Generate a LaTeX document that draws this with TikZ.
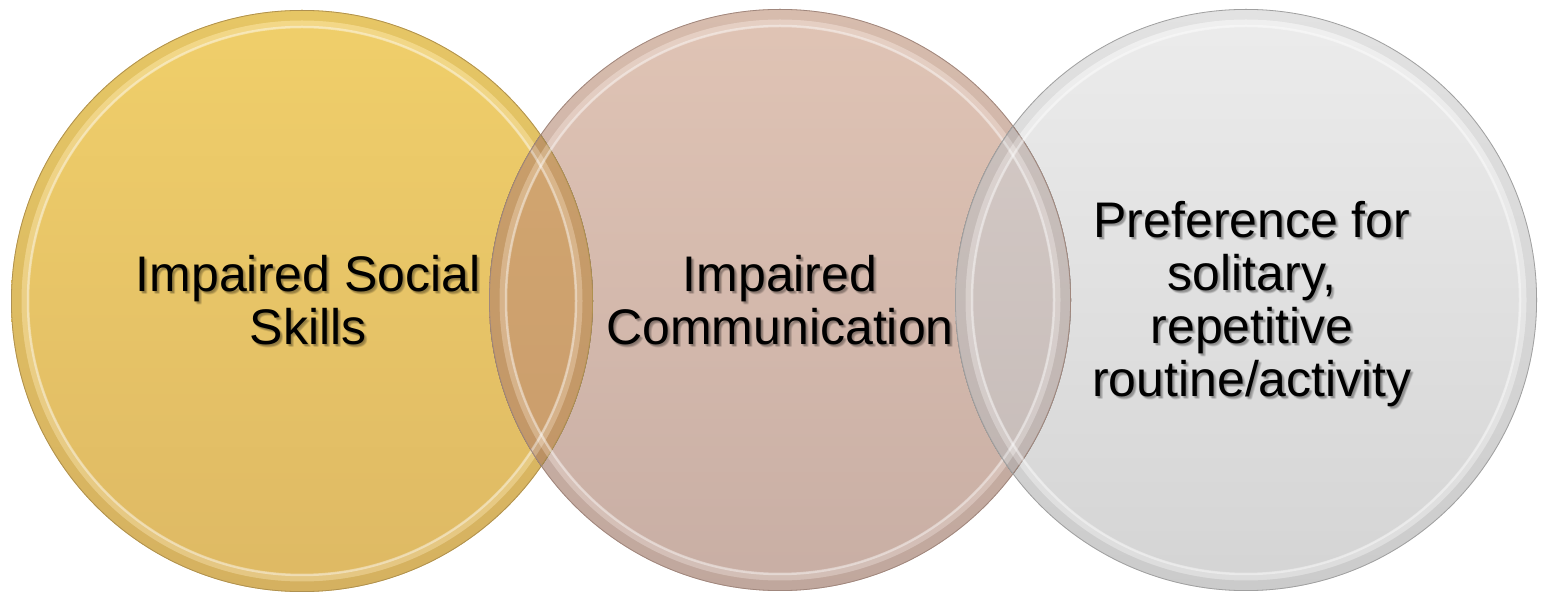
\documentclass[tikz,border=0pt]{standalone}
\usepackage{fontspec}
\setmainfont{Liberation Sans}
\definecolor{goldT}{RGB}{240,207,106}
\definecolor{goldB}{RGB}{222,185,100}
\definecolor{roseT}{RGB}{224,196,181}
\definecolor{roseB}{RGB}{200,174,164}
\definecolor{greyT}{RGB}{236,236,236}
\definecolor{greyB}{RGB}{212,212,212}
\definecolor{lensAT}{RGB}{212,168,112}
\definecolor{lensAB}{RGB}{200,155,108}
\definecolor{lensBT}{RGB}{214,203,199}
\definecolor{lensBB}{RGB}{196,186,183}
\begin{document}
\begin{tikzpicture}[x=1pt,y=1pt,
  disc/.style={circle, inner sep=0pt, minimum size=582pt},
  label/.style={align=center, font=\fontsize{50}{53}\selectfont, text=black, inner sep=0pt},
  shade/.style={label, text=black, text opacity=0.07}]
\useasboundingbox (0,0) rectangle (1543,600);

% the three discs, back to front
\node[disc, top color=goldT, bottom color=goldB] (soc) at (302,299) {};
\node[disc, top color=roseT, bottom color=roseB] (com) at (780,300) {};
\node[disc, top color=greyT, bottom color=greyB] (rep) at (1246,300) {};

% overlapping lenses
\begin{scope}
  \clip (soc.center) circle (291);
  \fill[top color=lensAT, bottom color=lensAB] (com.center) circle (291);
\end{scope}
\begin{scope}
  \clip (com.center) circle (291);
  \fill[top color=lensBT, bottom color=lensBB] (rep.center) circle (291);
\end{scope}

% bevelled rims
\foreach \c/\edge in {soc/{rgb,255:red,175;green,145;blue,80},
                      com/{rgb,255:red,160;green,135;blue,125},
                      rep/{rgb,255:red,160;green,160;blue,160}} {
  \draw[black, opacity=0.04, line width=10pt] (\c.center) circle (285.5);
  \draw[white, opacity=0.2, line width=7pt] (\c.center) circle (277);
  \draw[white, opacity=0.4, line width=2.5pt] (\c.center) circle (274);
  \draw[color=\edge, line width=0.8pt] (\c.center) circle (290.6);
}

% labels with a soft drop shadow
\foreach \dx/\dy in {1/-1, 2/-2, 3/-3, 2/-3, 3/-2, 1.5/-2.5} {
  \node[shade] at (308+\dx,300+\dy) {Impaired Social\\Skills};
  \node[shade] at (780+\dx,300+\dy) {Impaired\\Communication};
  \node[shade] at (1252+\dx,296+\dy) {Preference for\\solitary,\\repetitive\\routine/activity};
}
\node[label] (socl) at (308,300) {Impaired Social\\Skills};
\node[label] (coml) at (780,300) {Impaired\\Communication};
\node[label] (repl) at (1252,296) {Preference for\\solitary,\\repetitive\\routine/activity};
\end{tikzpicture}
\end{document}
